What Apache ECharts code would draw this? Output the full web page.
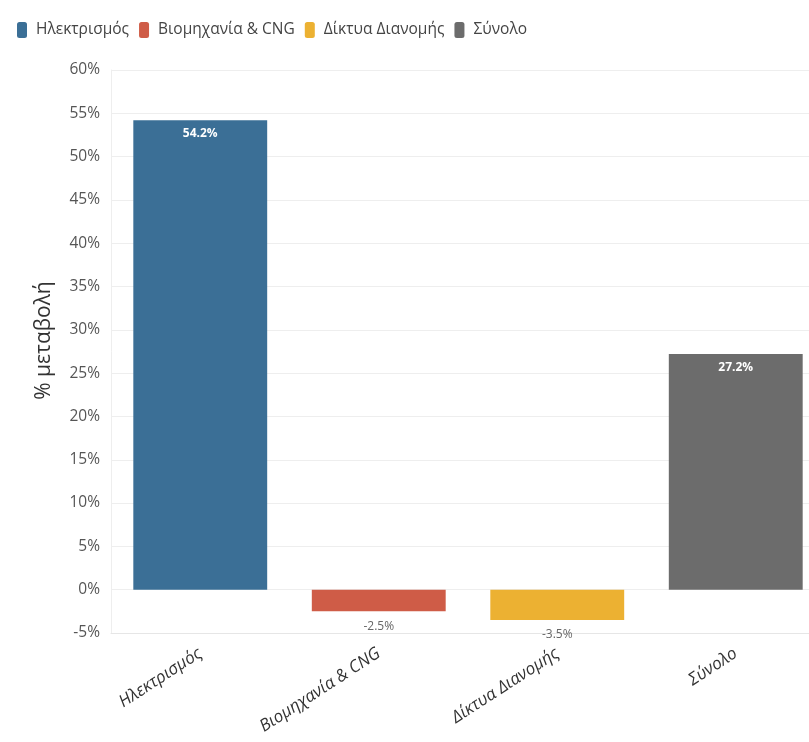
<!DOCTYPE html>
<html><head><meta charset="utf-8">
<script src="https://cdn.jsdelivr.net/npm/echarts@6/dist/echarts.min.js"></script>
<style>html,body{margin:0;padding:0;background:#fff;overflow:hidden}#c{width:825px;height:742px}</style>
</head><body><div id="c"></div>
<script>
const categories = ['Ηλεκτρισμός', 'Βιομηχανία & CNG', 'Δίκτυα Διανομής', 'Σύνολο'];
const seriesNames = ['Ηλεκτρισμός', 'Βιομηχανία & CNG', 'Δίκτυα Διανομής', 'Σύνολο'];
const values = [54.2, -2.5, -3.5, 27.2];
const colors = ['#3b6f96', '#cf5c47', '#ecb132', '#6c6c6c'];
const yTicks = { min: -5, max: 60, interval: 5 };

const font = '"Open Sans", "Noto Sans", sans-serif';
const chart = echarts.init(document.getElementById('c'));
const series = seriesNames.map((name, i) => ({
  name: name,
  type: 'bar',
  barWidth: '75%',
  barGap: '-100%',
  itemStyle: { color: colors[i] },
  data: categories.map((c, j) => (j === i ? values[i] : null)),
  label: {
    show: true,
    position: values[i] >= 0 ? 'insideTop' : 'bottom',
    distance: values[i] >= 0 ? 7 : 9,
    color: values[i] >= 0 ? '#ffffff' : '#666666',
    fontSize: 12,
    fontWeight: values[i] >= 0 ? 'bold' : 'normal',
    fontFamily: font,
    formatter: p => p.value.toFixed(1) + '%'
  }
}));
chart.setOption({
  animation: false,
  textStyle: { fontFamily: font },
  legend: {
    left: 12, top: 17,
    itemWidth: 10, itemHeight: 16, itemGap: 10,
    icon: 'roundRect',
    textStyle: { fontSize: 15.5, color: '#444', fontFamily: font, padding: [0, 0, 0, 4] },
    data: seriesNames
  },
  grid: { left: 111, right: 0, top: 70, bottom: 109, containLabel: false },
  xAxis: {
    type: 'category',
    data: categories,
    axisLine: { onZero: false, lineStyle: { color: '#e6e6e6' } },
    axisTick: { show: false },
    splitLine: { show: false },
    axisLabel: {
      rotate: 33, margin: 19, fontSize: 17, color: '#333', fontStyle: 'italic', fontFamily: font,
      interval: 0
    }
  },
  yAxis: {
    type: 'value',
    min: yTicks.min, max: yTicks.max, interval: yTicks.interval,
    name: '% μεταβολή',
    nameLocation: 'middle',
    nameGap: 56,
    nameTextStyle: { fontSize: 21, color: '#333', fontFamily: font, padding: [0, 0, 0, 22] },
    axisLine: { show: true, lineStyle: { color: '#eeeeee' } },
    axisTick: { show: false },
    splitLine: { lineStyle: { color: '#eeeeee' } },
    axisLabel: { fontSize: 15.5, color: '#555', margin: 11, formatter: v => v + '%' }
  },
  series: series
});
</script></body></html>
